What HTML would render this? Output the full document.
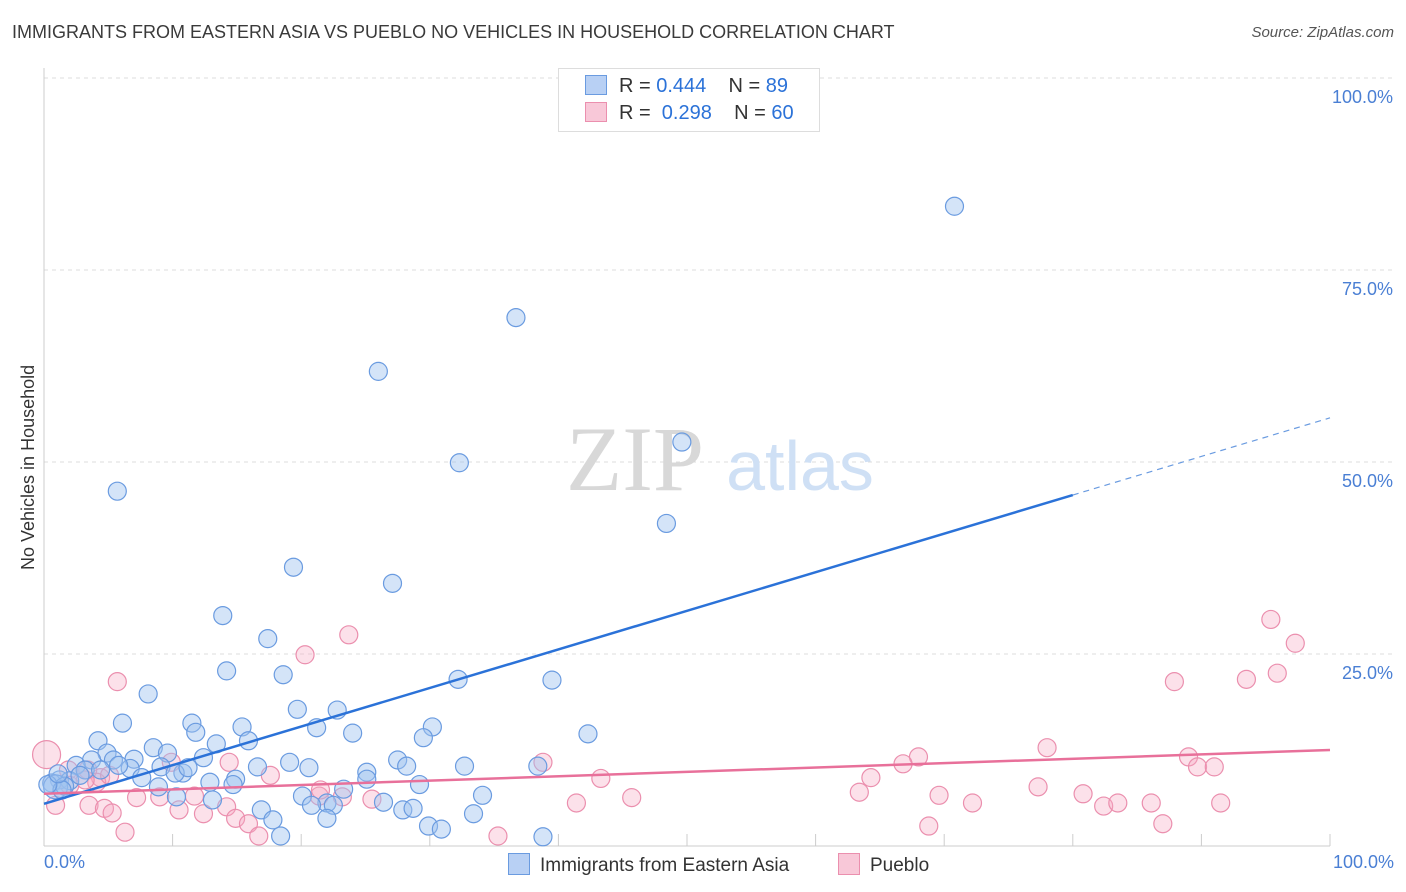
<!DOCTYPE html>
<html><head><meta charset="utf-8"><style>
body{margin:0;background:#fff;font-family:"Liberation Sans",sans-serif;}
#wrap{position:relative;width:1406px;height:892px;overflow:hidden;}
.t{position:absolute;white-space:nowrap;}
</style></head><body>
<div id="wrap">
<div class="t" style="left:12px;top:22px;font-size:18px;color:#3a3a3a">IMMIGRANTS FROM EASTERN ASIA VS PUEBLO NO VEHICLES IN HOUSEHOLD CORRELATION CHART</div>
<div class="t" style="right:12px;top:24px;font-size:15px;color:#555;font-style:italic">Source: ZipAtlas.com</div>
<svg id="svg" width="1406" height="892" style="position:absolute;left:0;top:0"></svg>
</div>
<script>
const blueX=[70.8,36.7,26,49.6,32.3,5.7,48.4,19.4,27.1,13.9,17.4,18.6,14.2,8.1,32.2,39.5,19.7,22.8,6.1,11.5,21.2,11.8,15.4,30.2,24,42.3,15.9,4.2,29.5,13.4,8.5,9.6,4.9,7,12.4,3.7,5.4,2.5,19.1,27.5,28.2,32.7,38.4,16.6,20.6,6.7,3.2,9.1,10.8,25.1,14.9,7.6,1.2,2,0.6,12.9,25.1,29.2,14.7,10.2,23.3,8.9,34.1,10.3,20.1,13.1,22,20.8,26.4,22.5,16.9,27.9,28.7,33.4,22,17.8,29.9,30.9,18.4,38.8,0.9,1.6,2.8,4.4,5.8,11.2,1.4,0.3,1.1];
const blueY=[83.3,68.8,61.8,52.6,49.9,46.2,42,36.3,34.2,30,27,22.3,22.8,19.8,21.7,21.6,17.8,17.7,16,16,15.4,14.8,15.5,15.5,14.7,14.6,13.7,13.7,14.1,13.3,12.8,12.1,12.1,11.3,11.5,11.2,11.2,10.5,10.9,11.2,10.4,10.4,10.4,10.3,10.2,10.1,9.9,10.3,9.5,9.6,8.7,8.9,8.6,8.5,8.2,8.3,8.7,8,8,9.5,7.4,7.7,6.6,6.4,6.5,6,5.6,5.3,5.7,5.3,4.7,4.7,4.9,4.2,3.6,3.4,2.6,2.2,1.3,1.2,7.7,7.8,9.2,9.9,10.5,10.2,7.3,8,9.4];
const pinkX=[95.4,97.3,23.7,20.3,5.7,87.9,93.5,95.9,78,68,66.8,89,89.7,91,38.8,43.3,64.3,14.4,9.9,4.4,3.4,1.9,4.1,17.6,77.3,80.8,69.6,63.4,45.7,41.4,72.2,82.4,83.5,86.1,91.5,25.5,23.2,7.2,9,3.5,4.7,5.3,10.5,12.4,14.2,14.9,15.9,21.4,68.8,87,35.3,16.7,6.3,0.9,0.2,11.7,21.5,3.2,2,5.1];
const pinkY=[29.5,26.4,27.5,24.9,21.4,21.4,21.7,22.5,12.8,11.6,10.7,11.6,10.3,10.3,10.9,8.8,8.9,10.9,10.9,8.9,9.9,9.9,8.3,9.2,7.7,6.8,6.6,7,6.3,5.6,5.6,5.2,5.6,5.6,5.6,6.1,6.4,6.3,6.4,5.3,4.9,4.3,4.7,4.2,5.1,3.6,2.9,6.5,2.6,2.9,1.3,1.3,1.8,5.3,11.9,6.5,7.3,8.6,7.9,9.2];
const blueLine=[5.5,45.7];   // y at x=0 and x=80
const pinkLine=[6.8,12.5];   // y at x=0 and x=100
const yTicks=[25,50,75,100];
const X0=44,X1=1330,Y0=846,Y100=78;
const sx=v=>X0+(X1-X0)*v/100, sy=v=>Y0-(Y0-Y100)*v/100;
const svg=document.getElementById('svg');const NS='http://www.w3.org/2000/svg';
function mk(tag,attrs,parent){const e=document.createElementNS(NS,tag);for(const k in attrs)e.setAttribute(k,attrs[k]);(parent||svg).appendChild(e);return e;}
for(const t of yTicks){const g=mk('line',{x1:X0,x2:1395,y1:sy(t),y2:sy(t),stroke:'#ddd','stroke-dasharray':'4,4'});


const l=mk('text',{x:1393,y:sy(t)+25,'text-anchor':'end','font-size':18,fill:'#4a7fd4','font-family':'Liberation Sans'});l.textContent=t.toFixed(1)+'%';

}
mk('line',{x1:X0,x2:X0,y1:68,y2:Y0,stroke:'#ccc'});
mk('line',{x1:X0,x2:X1,y1:Y0,y2:Y0,stroke:'#ccc'});
for(let i=0;i<=10;i++){mk('line',{x1:sx(i*10),x2:sx(i*10),y1:Y0,y2:Y0-12,stroke:'#ccc'});}
const wm=mk('text',{x:635,y:490,'text-anchor':'middle','font-size':92,fill:'#d8d8d8','font-family':'Liberation Serif'});wm.textContent='ZIP';
const wm2=mk('text',{x:800,y:490,'text-anchor':'middle','font-size':70,fill:'#cfe0f5','font-family':'Liberation Sans'});wm2.textContent='atlas';
pinkX.forEach((x,i)=>{const r=(i==54)?14:9;const c=mk('circle',{cx:sx(x),cy:sy(pinkY[i]),r:r,fill:'rgba(245,170,195,0.35)',stroke:'#eb8fae','stroke-width':1.2});

});
blueX.forEach((x,i)=>{const r=(i==80)?12:9;const c=mk('circle',{cx:sx(x),cy:sy(blueY[i]),r:r,fill:'rgba(160,195,240,0.45)',stroke:'#6a9be0','stroke-width':1.2});

});
const by=x=>blueLine[0]+(blueLine[1]-blueLine[0])*x/80;
const bl=mk('line',{x1:sx(0),y1:sy(by(0)),x2:sx(80),y2:sy(by(80)),stroke:'#2b72d8','stroke-width':2.5});


mk('line',{x1:sx(80),y1:sy(by(80)),x2:sx(100),y2:sy(by(100)),stroke:'#6a9be0','stroke-width':1.2,'stroke-dasharray':'6,5'});
const pl=mk('line',{x1:sx(0),y1:sy(pinkLine[0]),x2:sx(100),y2:sy(pinkLine[1]),stroke:'#e8709a','stroke-width':2.5});


</script>
<div class="t" style="left:44px;top:852px;font-size:18px;color:#4a7fd4">0.0%</div>
<div class="t" style="right:12px;top:852px;font-size:18px;color:#4a7fd4">100.0%</div>
<div class="t" style="left:18px;top:570px;font-size:18px;color:#333;transform:rotate(-90deg);transform-origin:0 0">No Vehicles in Household</div>
<div style="position:absolute;left:558px;top:68px;width:260px;height:62px;border:1px solid #ddd;background:#fff;font-size:20px;color:#333">
<div class="t" style="left:26px;top:6px"><span style="display:inline-block;width:20px;height:18px;background:#b8d0f4;border:1px solid #6a9be0;vertical-align:-3px;margin-right:12px"></span>R = <span style="color:#2b72d8">0.444</span>&nbsp;&nbsp;&nbsp; N = <span style="color:#2b72d8">89</span></div>
<div class="t" style="left:26px;top:33px"><span style="display:inline-block;width:20px;height:18px;background:#f8c8d8;border:1px solid #eb8fae;vertical-align:-3px;margin-right:12px"></span>R = &nbsp;<span style="color:#2b72d8">0.298</span>&nbsp;&nbsp;&nbsp; N = <span style="color:#2b72d8">60</span></div>
</div>
<div class="t" style="left:508px;top:853px;font-size:19px;color:#333"><span style="display:inline-block;width:20px;height:20px;background:#b8d0f4;border:1px solid #6a9be0;vertical-align:-4px;margin-right:10px"></span>Immigrants from Eastern Asia</div>
<div class="t" style="left:838px;top:853px;font-size:19px;color:#333"><span style="display:inline-block;width:20px;height:20px;background:#f8c8d8;border:1px solid #eb8fae;vertical-align:-4px;margin-right:10px"></span>Pueblo</div>
</body></html>
